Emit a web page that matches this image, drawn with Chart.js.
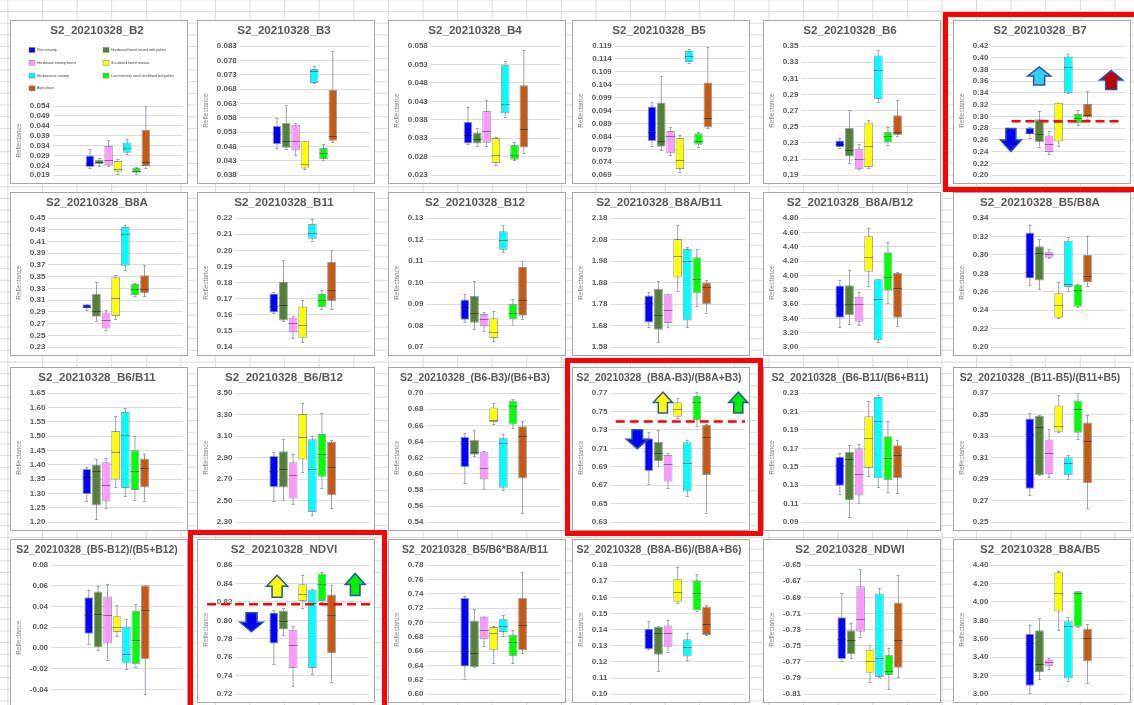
<!DOCTYPE html>
<html lang="en">
<head>
<meta charset="UTF-8">
<title>S2_20210328 reflectance box plots</title>
<script src="https://cdn.jsdelivr.net/npm/chart.js"></script>
<style>
  body {
    margin: 0;
    width: 1134px;
    height: 705px;
    overflow: hidden;
    position: relative;
    background-color: #fff;
    background-image:
      linear-gradient(to right, #d9d9d9 1px, transparent 1px),
      linear-gradient(to bottom, #d9d9d9 1px, transparent 1px);
    background-size: 34.6px 11.7px;
    background-position: 7.4px 11px;
  }
  .panel {
    position: absolute;
    box-sizing: border-box;
    background: #fff;
    border: 1px solid #a6a6a6;
  }
  .panel canvas { display: block; }
  .frame {
    position: absolute;
    box-sizing: border-box;
    border: 5px solid #ff0000;
    z-index: 5;
  }
</style>
</head>
<body>
<div class="frame" style="left:943px; top:12px; width:200px; height:180px;"></div>
<div class="frame" style="left:565px; top:358px; width:198px; height:178px;"></div>
<div class="frame" style="left:188px; top:530px; width:199px; height:190px;"></div>
<script>
// classes, in the order the boxes are drawn
const CLASSES = ['Rain swamp', 'Hardwood forest mixed with palms', 'Hardwood swamp forest',
  'Scrubland forest mosaic', 'Herbaceous swamp', 'Low intensity used shrubland but palms', 'Agriculture'];
const COLORS = ['#0000ff', '#548235', '#ff99ff', '#ffff00', '#00ffff', '#00ff00', '#c55a11'];

const PANEL_TITLES = [
  'S2_20210328_B2', 'S2_20210328_B3', 'S2_20210328_B4', 'S2_20210328_B5', 'S2_20210328_B6', 'S2_20210328_B7',
  'S2_20210328_B8A', 'S2_20210328_B11', 'S2_20210328_B12', 'S2_20210328_B8A/B11', 'S2_20210328_B8A/B12', 'S2_20210328_B5/B8A',
  'S2_20210328_B6/B11', 'S2_20210328_B6/B12', 'S2_20210328_(B6-B3)/(B6+B3)', 'S2_20210328_(B8A-B3)/(B8A+B3)',
  'S2_20210328_(B6-B11/(B6+B11)', 'S2_20210328_(B11-B5)/(B11+B5)',
  'S2_20210328_(B5-B12)/(B5+B12)', 'S2_20210328_NDVI', 'S2_20210328_B5/B6*B8A/B11', 'S2_20210328_(B8A-B6)/(B8A+B6)',
  'S2_20210328_NDWI', 'S2_20210328_B8A/B5'
];

// y axis [min, max, step] per panel
const Y_AXES = [
  [0.019, 0.054, 0.005], [0.038, 0.083, 0.005], [0.023, 0.058, 0.005], [0.069, 0.119, 0.005], [0.19, 0.35, 0.02], [0.20, 0.42, 0.02],
  [0.23, 0.45, 0.02], [0.14, 0.22, 0.01], [0.07, 0.13, 0.01], [1.58, 2.18, 0.10], [3.00, 4.80, 0.20], [0.20, 0.34, 0.02],
  [1.20, 1.65, 0.05], [2.30, 3.50, 0.20], [0.54, 0.70, 0.02], [0.63, 0.77, 0.02], [0.09, 0.23, 0.02], [0.25, 0.37, 0.02],
  [-0.06, 0.08, 0.02], [0.72, 0.86, 0.02], [0.60, 0.78, 0.02], [0.10, 0.18, 0.01], [-0.81, -0.65, 0.02], [3.00, 4.40, 0.20]
];

// each row: [min, q1, median, q3, max], one row per class
const B2 = [[0.0225, 0.0232, 0.0250, 0.0290, 0.0320], [0.0237, 0.0245, 0.0257, 0.0268, 0.0277], [0.0237, 0.0240, 0.0268, 0.0338, 0.0367],
  [0.0198, 0.0207, 0.0220, 0.0262, 0.0270], [0.0297, 0.0303, 0.0328, 0.0355, 0.0373], [0.0198, 0.0203, 0.0212, 0.0227, 0.0232],
  [0.0227, 0.0237, 0.0257, 0.0420, 0.0540]];
const B3 = [[0.0475, 0.0488, 0.0523, 0.0551, 0.0579], [0.0472, 0.0476, 0.0500, 0.0563, 0.0623], [0.0449, 0.0466, 0.0500, 0.0556, 0.0561],
  [0.0401, 0.0403, 0.0418, 0.0500, 0.0500], [0.0701, 0.0701, 0.0744, 0.0750, 0.0761], [0.0434, 0.0436, 0.0458, 0.0475, 0.0488],
  [0.0494, 0.0500, 0.0515, 0.0677, 0.0813]];
const B4 = [[0.0315, 0.0316, 0.0340, 0.0375, 0.0416], [0.0310, 0.0316, 0.0329, 0.0346, 0.0359], [0.0310, 0.0318, 0.0350, 0.0404, 0.0434],
  [0.0257, 0.0263, 0.0285, 0.0331, 0.0334], [0.0389, 0.0398, 0.0423, 0.0529, 0.0539], [0.0270, 0.0272, 0.0286, 0.0312, 0.0320],
  [0.0290, 0.0305, 0.0355, 0.0474, 0.0569]];
const B5 = [[0.0804, 0.0822, 0.0856, 0.0956, 0.0973], [0.0786, 0.0800, 0.0821, 0.0971, 0.1074], [0.0768, 0.0775, 0.0843, 0.0861, 0.0876],
  [0.0703, 0.0714, 0.0748, 0.0834, 0.0844], [0.1126, 0.1128, 0.1153, 0.1171, 0.1177], [0.0801, 0.0808, 0.0822, 0.0852, 0.0856],
  [0.0873, 0.0875, 0.0911, 0.1049, 0.1185]];
const B6 = [[0.2239, 0.2247, 0.2290, 0.2329, 0.2357], [0.2055, 0.2133, 0.2214, 0.2488, 0.2708], [0.1973, 0.1973, 0.2096, 0.2227, 0.2284],
  [0.1990, 0.2002, 0.2267, 0.2553, 0.2578], [0.2810, 0.2843, 0.3202, 0.3382, 0.3451], [0.2276, 0.2312, 0.2386, 0.2435, 0.2500],
  [0.2390, 0.2398, 0.2439, 0.2643, 0.2827]];
const B7 = [[0.2640, 0.2696, 0.2720, 0.2808, 0.2825], [0.2483, 0.2561, 0.2696, 0.2954, 0.3100], [0.2360, 0.2393, 0.2533, 0.2674, 0.2752],
  [0.2494, 0.2573, 0.2900, 0.3235, 0.3235], [0.3403, 0.3403, 0.3835, 0.4020, 0.4060], [0.2848, 0.2881, 0.2982, 0.3044, 0.3106],
  [0.2965, 0.2982, 0.3027, 0.3212, 0.3437]];
const B8A = [[0.2934, 0.2962, 0.2990, 0.3030, 0.3040], [0.2738, 0.2817, 0.2917, 0.3209, 0.3406], [0.2598, 0.2620, 0.2766, 0.2890, 0.2940],
  [0.2783, 0.2833, 0.3142, 0.3490, 0.3529], [0.3619, 0.3686, 0.4225, 0.4348, 0.4388], [0.3164, 0.3187, 0.3293, 0.3378, 0.3389],
  [0.3164, 0.3220, 0.3299, 0.3524, 0.3703]];
const B11 = [[0.1609, 0.1615, 0.1658, 0.1733, 0.1744], [0.1561, 0.1566, 0.1662, 0.1804, 0.1938], [0.1454, 0.1492, 0.1550, 0.1583, 0.1594],
  [0.1432, 0.1458, 0.1535, 0.1652, 0.1690], [0.2060, 0.2071, 0.2105, 0.2163, 0.2191], [0.1637, 0.1647, 0.1695, 0.1729, 0.1755],
  [0.1637, 0.1684, 0.1755, 0.1929, 0.2002]];
const B12 = [[0.0817, 0.0828, 0.0889, 0.0922, 0.0948], [0.0783, 0.0814, 0.0860, 0.0938, 0.1006], [0.0774, 0.0797, 0.0829, 0.0854, 0.0863],
  [0.0729, 0.0743, 0.0771, 0.0835, 0.0866], [0.1142, 0.1152, 0.1200, 0.1238, 0.1266], [0.0805, 0.0829, 0.0860, 0.0902, 0.0923],
  [0.0832, 0.0846, 0.0918, 0.1072, 0.1102]];
const B8A_B11 = [[1.673, 1.695, 1.783, 1.820, 1.837], [1.603, 1.661, 1.730, 1.851, 1.888], [1.673, 1.692, 1.753, 1.826, 1.829],
  [1.842, 1.904, 2.005, 2.082, 2.148], [1.673, 1.704, 1.978, 2.036, 2.044], [1.771, 1.829, 1.898, 1.998, 2.036],
  [1.741, 1.780, 1.860, 1.880, 1.891]];
const B8A_B12 = [[3.280, 3.409, 3.588, 3.859, 3.941], [3.317, 3.446, 3.602, 3.863, 4.079], [3.308, 3.354, 3.602, 3.703, 3.772],
  [3.850, 4.052, 4.263, 4.547, 4.667], [3.069, 3.097, 3.675, 3.946, 3.955], [3.611, 3.785, 3.983, 4.323, 4.469],
  [3.299, 3.409, 3.831, 4.038, 4.047]];
const B5_B8A = [[0.2670, 0.2745, 0.2819, 0.3244, 0.3329], [0.2626, 0.2722, 0.3020, 0.3095, 0.3169], [0.2968, 0.2968, 0.3009, 0.3035, 0.3061],
  [0.2313, 0.2320, 0.2454, 0.2585, 0.2708], [0.2614, 0.2652, 0.2689, 0.3154, 0.3192], [0.2439, 0.2439, 0.2620, 0.2678, 0.2685],
  [0.2663, 0.2700, 0.2771, 0.2998, 0.3210]];
const B6_B11 = [[1.273, 1.298, 1.358, 1.385, 1.393], [1.210, 1.258, 1.379, 1.399, 1.419], [1.250, 1.272, 1.330, 1.409, 1.425],
  [1.324, 1.349, 1.444, 1.518, 1.570], [1.290, 1.319, 1.502, 1.584, 1.597], [1.278, 1.312, 1.379, 1.451, 1.500],
  [1.275, 1.321, 1.388, 1.422, 1.439]];
const B6_B12 = [[2.499, 2.625, 2.778, 2.915, 2.952], [2.505, 2.622, 2.790, 2.958, 3.071], [2.465, 2.520, 2.738, 2.857, 2.937],
  [2.768, 2.882, 3.090, 3.304, 3.411], [2.370, 2.395, 2.790, 3.071, 3.105], [2.618, 2.723, 2.937, 3.120, 3.310],
  [2.432, 2.551, 2.814, 3.050, 3.065]];
const ND_B6_B3 = [[0.5884, 0.6080, 0.6377, 0.6458, 0.6507], [0.6214, 0.6235, 0.6275, 0.6422, 0.6544], [0.5807, 0.5929, 0.6072, 0.6275, 0.6283],
  [0.6621, 0.6642, 0.6670, 0.6821, 0.6874], [0.5795, 0.5827, 0.6377, 0.6446, 0.6495], [0.6568, 0.6609, 0.6837, 0.6906, 0.6927],
  [0.5510, 0.5941, 0.6471, 0.6589, 0.6650]];
const ND_B8A_B3 = [[0.6718, 0.6856, 0.7072, 0.7209, 0.7274], [0.6913, 0.6964, 0.7047, 0.7173, 0.7296], [0.6675, 0.6740, 0.6928, 0.7029, 0.7050],
  [0.7433, 0.7444, 0.7527, 0.7599, 0.7642], [0.6589, 0.6632, 0.6939, 0.7166, 0.7195], [0.7346, 0.7404, 0.7606, 0.7668, 0.7714],
  [0.6404, 0.6812, 0.7220, 0.7354, 0.7361]];
const ND_B6_B11 = [[0.1208, 0.1295, 0.1516, 0.1610, 0.1645], [0.0956, 0.1138, 0.1586, 0.1663, 0.1733], [0.1110, 0.1190, 0.1418, 0.1698, 0.1750],
  [0.1400, 0.1488, 0.1810, 0.2048, 0.2209], [0.1278, 0.1376, 0.1995, 0.2258, 0.2283], [0.1225, 0.1355, 0.1593, 0.1831, 0.1995],
  [0.1215, 0.1376, 0.1628, 0.1733, 0.1796]];
const ND_B11_B5 = [[0.2753, 0.2810, 0.3321, 0.3463, 0.3511], [0.2936, 0.2936, 0.3384, 0.3488, 0.3498], [0.2920, 0.2945, 0.3147, 0.3267, 0.3362],
  [0.3340, 0.3340, 0.3394, 0.3583, 0.3678], [0.2904, 0.2936, 0.3053, 0.3100, 0.3125], [0.3277, 0.3331, 0.3548, 0.3631, 0.3700],
  [0.2630, 0.2863, 0.3252, 0.3425, 0.3498]];
const ND_B5_B12 = [[0.0035, 0.0138, 0.0314, 0.0490, 0.0563], [-0.0022, 0.0010, 0.0330, 0.0544, 0.0602], [-0.0112, 0.0042, 0.0314, 0.0496, 0.0618],
  [0.0115, 0.0154, 0.0202, 0.0307, 0.0410], [-0.0205, -0.0150, -0.0060, 0.0208, 0.0282], [-0.0182, -0.0157, 0.0074, 0.0362, 0.0426],
  [-0.0448, -0.0109, 0.0362, 0.0602, 0.0608]];
const NDVI = [[0.7522, 0.7749, 0.7900, 0.8086, 0.8111], [0.7841, 0.7902, 0.7990, 0.8107, 0.8132], [0.7292, 0.7483, 0.7732, 0.7898, 0.7934],
  [0.8139, 0.8210, 0.8285, 0.8391, 0.8497], [0.7416, 0.7483, 0.8185, 0.8334, 0.8345], [0.8203, 0.8210, 0.8398, 0.8508, 0.8529],
  [0.7335, 0.7646, 0.8054, 0.8281, 0.8387]];
const B5_B6_B8A_B11 = [[0.6218, 0.6386, 0.6595, 0.7345, 0.7364], [0.6377, 0.6377, 0.6577, 0.7027, 0.7186], [0.6673, 0.6764, 0.6900, 0.7082, 0.7082],
  [0.6436, 0.6614, 0.6855, 0.6936, 0.6945], [0.6809, 0.6868, 0.6945, 0.7050, 0.7105], [0.6436, 0.6527, 0.6727, 0.6832, 0.6891],
  [0.6568, 0.6614, 0.6968, 0.7341, 0.7705]];
const ND_B8A_B6 = [[0.1279, 0.1279, 0.1365, 0.1405, 0.1452], [0.1142, 0.1245, 0.1377, 0.1417, 0.1421], [0.1263, 0.1294, 0.1377, 0.1425, 0.1462],
  [0.1567, 0.1573, 0.1634, 0.1715, 0.1790], [0.1213, 0.1233, 0.1294, 0.1340, 0.1381], [0.1518, 0.1518, 0.1624, 0.1705, 0.1745],
  [0.1367, 0.1367, 0.1435, 0.1543, 0.1553]];
const NDWI = [[-0.7684, -0.7664, -0.7420, -0.7146, -0.6852], [-0.7652, -0.7603, -0.7429, -0.7308, -0.7215], [-0.7389, -0.7328, -0.7167, -0.6763, -0.6553],
  [-0.7955, -0.7833, -0.7684, -0.7551, -0.7490], [-0.7886, -0.7886, -0.7652, -0.6852, -0.6783], [-0.8035, -0.7862, -0.7813, -0.7611, -0.7522],
  [-0.7886, -0.7773, -0.7425, -0.6965, -0.6629]];
const B8A_B5 = [[3.017, 3.091, 3.560, 3.655, 3.755], [3.162, 3.240, 3.329, 3.694, 3.826], [3.276, 3.304, 3.347, 3.375, 3.389],
  [3.694, 3.896, 4.099, 4.322, 4.340], [3.141, 3.170, 3.744, 3.790, 3.836], [3.730, 3.730, 4.099, 4.116, 4.116],
  [3.123, 3.354, 3.613, 3.712, 3.762]];

const BOX_STATS = [B2, B3, B4, B5, B6, B7, B8A, B11, B12, B8A_B11, B8A_B12, B5_B8A,
  B6_B11, B6_B12, ND_B6_B3, ND_B8A_B3, ND_B6_B11, ND_B11_B5,
  ND_B5_B12, NDVI, B5_B6_B8A_B11, ND_B8A_B6, NDWI, B8A_B5];

// threshold lines (value) and block arrows drawn on the highlighted panels
const THRESHOLDS = [
  { panel: 5, value: 0.292, from: 0.15, to: 0.97 },
  { panel: 15, value: 0.739, from: 0.04, to: 1.0 },
  { panel: 19, value: 0.8175, from: -0.21, to: 1.0 }
];
const ARROWS = [
  { panel: 5, x: 0.145, value: 0.260, dir: 'down', color: '#0000ff', w: 21, h: 23 },
  { panel: 5, x: 0.355, value: 0.369, dir: 'up', color: '#33ccf5', w: 23, h: 18 },
  { panel: 5, x: 0.89, value: 0.362, dir: 'up', color: '#c00000', w: 23, h: 19 },
  { panel: 15, x: 0.20, value: 0.720, dir: 'down', color: '#0000ff', w: 22, h: 19 },
  { panel: 15, x: 0.39, value: 0.7597, dir: 'up', color: '#ffff00', w: 19, h: 21 },
  { panel: 15, x: 0.95, value: 0.7597, dir: 'up', color: '#00ee00', w: 19, h: 21 },
  { panel: 19, x: 0.12, value: 0.798, dir: 'down', color: '#0000ff', w: 23, h: 19 },
  { panel: 19, x: 0.31, value: 0.837, dir: 'up', color: '#ffff00', w: 21, h: 22 },
  { panel: 19, x: 0.89, value: 0.839, dir: 'up', color: '#00ee00', w: 20, h: 22 }
];

const FONT = "'Liberation Sans', Arial, sans-serif";
Chart.defaults.font.family = FONT;

const COL_X = [10, 197, 388, 572, 763, 953];
const ROW_Y = [20, 192, 367, 539];
const PANEL_W = 178, PANEL_H = 164;
const WHISKER = '#9aa3b2';
const BOX_EDGE = 'rgba(60,80,110,0.55)';
const MEDIAN = 'rgba(0,0,0,0.4)';

function tickValues(min, max, step) {
  const n = Math.round((max - min) / step);
  const out = [];
  for (let k = 0; k <= n; k++) out.push(+(min + k * step).toFixed(6));
  return out;
}

function blockArrow(ctx, cx, cy, w, h, dir, fill) {
  const hw = w / 2, sw = w * 0.24, hh = h * 0.5;
  const s = dir === 'up' ? 1 : -1;
  const tip = cy - s * h / 2, end = cy + s * h / 2, neck = tip + s * hh;
  ctx.beginPath();
  ctx.moveTo(cx, tip);
  ctx.lineTo(cx + hw, neck);
  ctx.lineTo(cx + sw, neck);
  ctx.lineTo(cx + sw, end);
  ctx.lineTo(cx - sw, end);
  ctx.lineTo(cx - sw, neck);
  ctx.lineTo(cx - hw, neck);
  ctx.closePath();
  ctx.fillStyle = fill;
  ctx.fill();
  ctx.lineWidth = 1.5;
  ctx.strokeStyle = '#2f5597';
  ctx.stroke();
}

// medians and whisker caps, placed on the bars the library laid out
function boxDetails(stats) {
  return {
    id: 'boxDetails',
    afterDatasetsDraw(chart) {
      const ctx = chart.ctx, y = chart.scales.y;
      ctx.save();
      ctx.lineWidth = 1;
      stats.forEach((s, c) => {
        const bar = chart.getDatasetMeta(c).data[0];
        const half = bar.width / 2;
        const ym = Math.round(y.getPixelForValue(s[2])) + 0.5;
        ctx.strokeStyle = MEDIAN;
        ctx.beginPath();
        ctx.moveTo(bar.x - half, ym);
        ctx.lineTo(bar.x + half, ym);
        ctx.stroke();
        ctx.strokeStyle = WHISKER;
        [s[0], s[4]].forEach(v => {
          const yy = Math.round(y.getPixelForValue(v)) + 0.5;
          ctx.beginPath();
          ctx.moveTo(bar.x - 1.5, yy);
          ctx.lineTo(bar.x + 1.5, yy);
          ctx.stroke();
        });
      });
      ctx.restore();
    }
  };
}

function marks(panelIndex) {
  return {
    id: 'marks',
    afterDraw(chart) {
      const ctx = chart.ctx, y = chart.scales.y, a = chart.chartArea;
      const w = a.right - a.left;
      ctx.save();
      THRESHOLDS.filter(t => t.panel === panelIndex).forEach(t => {
        const yy = y.getPixelForValue(t.value);
        ctx.strokeStyle = '#ff0000';
        ctx.lineWidth = 2.5;
        ctx.setLineDash([9, 5]);
        ctx.beginPath();
        ctx.moveTo(a.left + t.from * w, yy);
        ctx.lineTo(a.left + t.to * w, yy);
        ctx.stroke();
      });
      ctx.setLineDash([]);
      ARROWS.filter(r => r.panel === panelIndex).forEach(r => {
        blockArrow(ctx, a.left + r.x * w, y.getPixelForValue(r.value), r.w, r.h, r.dir, r.color);
      });
      ctx.restore();
    }
  };
}

const legendGrid = {
  id: 'legendGrid',
  afterDraw(chart) {
    const ctx = chart.ctx;
    ctx.save();
    ctx.font = '3.6px ' + FONT;
    ctx.textBaseline = 'middle';
    CLASSES.forEach((name, c) => {
      const x = c % 2 === 0 ? 18 : 92;
      const yy = 29 + Math.floor(c / 2) * 12.8;
      ctx.fillStyle = COLORS[c];
      ctx.fillRect(x, yy - 2.5, 6, 5);
      ctx.strokeStyle = '#7f7f7f';
      ctx.lineWidth = 0.5;
      ctx.strokeRect(x, yy - 2.5, 6, 5);
      ctx.fillStyle = '#404040';
      ctx.fillText(name, x + 8, yy);
    });
    ctx.restore();
  }
};

PANEL_TITLES.forEach((title, i) => {
  const stats = BOX_STATS[i];
  const [yMin, yMax, yStep] = Y_AXES[i];
  const decimals = Math.max(2, (String(yStep).split('.')[1] || '').length);
  const ticks = tickValues(yMin, yMax, yStep);
  const extra = i === 18 ? 16 : 0;

  const panel = document.createElement('div');
  panel.className = 'panel';
  panel.style.left = COL_X[i % 6] + 'px';
  panel.style.top = ROW_Y[Math.floor(i / 6)] + 'px';
  panel.style.width = PANEL_W + 'px';
  panel.style.height = (PANEL_H + extra) + 'px';
  const canvas = document.createElement('canvas');
  canvas.width = PANEL_W - 2;
  canvas.height = PANEL_H - 2 + extra;
  panel.appendChild(canvas);
  document.body.appendChild(panel);

  const tSize = title.length > 22 ? 10.4 : 11.6;
  const tLine = tSize * 1.2;
  const tTop = 10 - tLine / 2;
  // the first panel keeps room under its title for the legend
  const tBottom = 25 - tTop - tLine + (i === 0 ? 60 : 0);

  const boxSets = CLASSES.map((name, c) => ({
    label: name,
    data: [[stats[c][1], stats[c][3]]],
    backgroundColor: COLORS[c],
    borderColor: BOX_EDGE,
    borderWidth: 1,
    borderSkipped: false,
    stack: 'c' + c
  }));
  const whiskerSets = CLASSES.map((name, c) => ({
    label: name + ' range',
    data: [[stats[c][0], stats[c][4]]],
    backgroundColor: WHISKER,
    borderWidth: 0,
    maxBarThickness: 1,
    stack: 'c' + c
  }));

  const plugins = [boxDetails(stats), marks(i)];
  if (i === 0) plugins.push(legendGrid);

  new Chart(canvas, {
    type: 'bar',
    data: { labels: [''], datasets: [...boxSets, ...whiskerSets] },
    options: {
      responsive: false,
      animation: false,
      devicePixelRatio: 1,
      events: [],
      datasets: { bar: { categoryPercentage: 0.5, barPercentage: 0.92 } },
      layout: { padding: { top: 0, right: 4, bottom: 7, left: 0 } },
      plugins: {
        legend: { display: false },
        tooltip: { enabled: false },
        title: {
          display: true,
          text: title,
          color: '#595959',
          font: { size: tSize, weight: 'bold', lineHeight: 1.2 },
          padding: { top: tTop, bottom: tBottom }
        }
      },
      scales: {
        x: { display: false },
        y: {
          stacked: false,
          min: yMin,
          max: yMax,
          afterBuildTicks: scale => { scale.ticks = ticks.map(v => ({ value: v })); },
          ticks: {
            autoSkip: false,
            padding: 3,
            color: '#595959',
            font: { size: 8, weight: 'bold' },
            callback: v => Number(v).toFixed(decimals)
          },
          grid: { color: '#dcdcdc', drawTicks: false },
          border: { display: false },
          title: {
            display: true,
            text: 'Reflectance',
            color: '#7f7f7f',
            font: { size: 6.5 },
            padding: { top: 4, bottom: 4 }
          }
        }
      }
    },
    plugins
  });
});
</script>
</body>
</html>
